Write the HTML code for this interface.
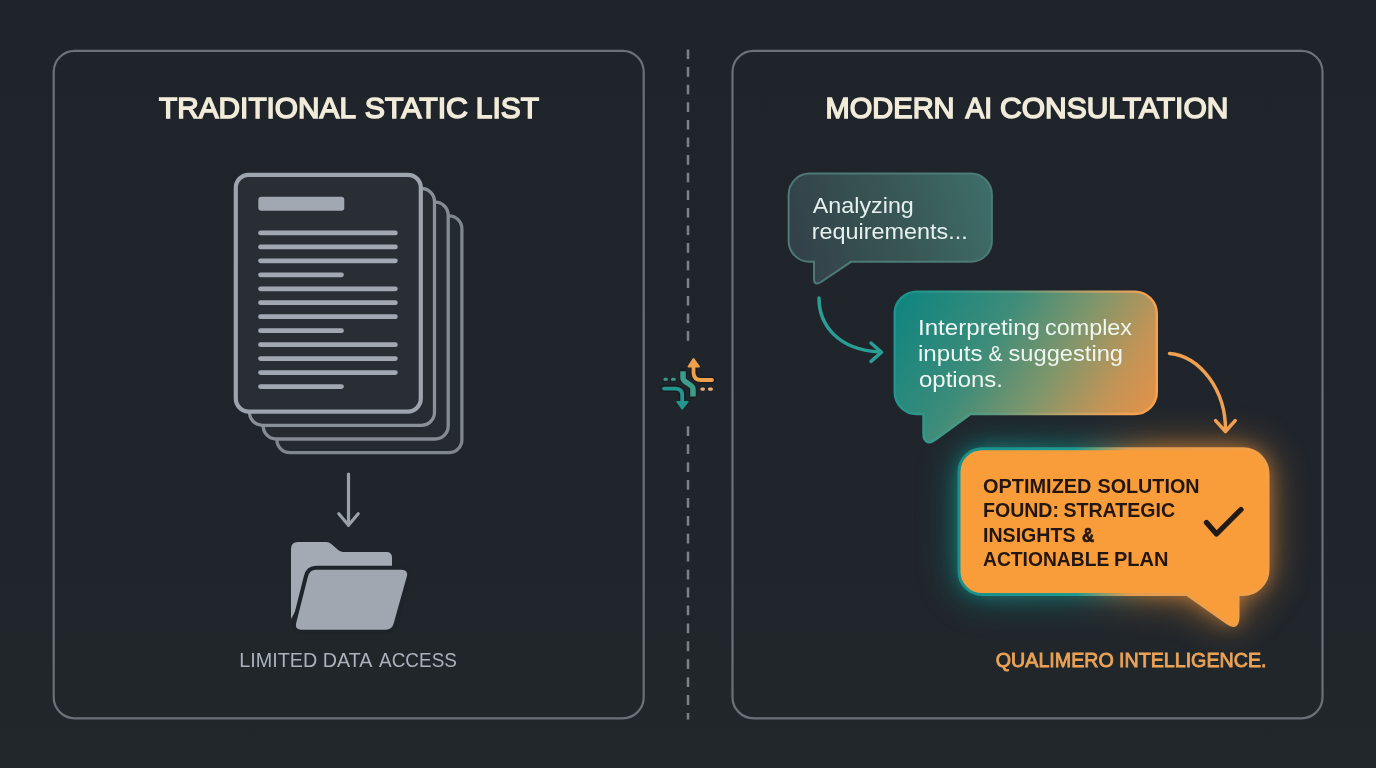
<!DOCTYPE html>
<html><head><meta charset="utf-8">
<style>
html,body{margin:0;padding:0;background:linear-gradient(#1f242b,#20252b 70%,#22272b);width:1376px;height:768px;overflow:hidden}
svg{display:block;position:absolute;left:0;top:0;will-change:transform}
text{font-family:"Liberation Sans",sans-serif}
</style></head>
<body>
<svg width="1376" height="768" viewBox="0 0 1376 768">
<defs>
  <linearGradient id="g1" gradientUnits="userSpaceOnUse" x1="790" y1="230" x2="990" y2="175">
    <stop offset="0" stop-color="#33414a"/>
    <stop offset="0.5" stop-color="#385653"/>
    <stop offset="1" stop-color="#3e6e6a"/>
  </linearGradient>
  <linearGradient id="g2" gradientUnits="userSpaceOnUse" x1="910" y1="292" x2="1150" y2="440">
    <stop offset="0" stop-color="#12857f"/>
    <stop offset="0.33" stop-color="#3d8c7a"/>
    <stop offset="0.58" stop-color="#80966b"/>
    <stop offset="0.8" stop-color="#c49456"/>
    <stop offset="1" stop-color="#ec9145"/>
  </linearGradient>
  <linearGradient id="g2s" gradientUnits="userSpaceOnUse" x1="900" y1="330" x2="1160" y2="380">
    <stop offset="0" stop-color="#1d948d"/>
    <stop offset="0.4" stop-color="#5a9a84"/>
    <stop offset="0.7" stop-color="#c4a266"/>
    <stop offset="0.9" stop-color="#f2a253"/>
    <stop offset="1" stop-color="#f8a24a"/>
  </linearGradient>
  <linearGradient id="g3s" gradientUnits="userSpaceOnUse" x1="958" y1="0" x2="1270" y2="0">
    <stop offset="0" stop-color="#18908b"/>
    <stop offset="0.38" stop-color="#1f9a90"/>
    <stop offset="0.55" stop-color="#e39d52"/>
    <stop offset="1" stop-color="#f5a045"/>
  </linearGradient>
  <linearGradient id="g3glow" gradientUnits="userSpaceOnUse" x1="958" y1="0" x2="1270" y2="0">
    <stop offset="0" stop-color="#10a59c" stop-opacity="1"/>
    <stop offset="0.4" stop-color="#1a9a90" stop-opacity="0.9"/>
    <stop offset="0.62" stop-color="#f59a3c"/>
    <stop offset="1" stop-color="#f59a3c"/>
  </linearGradient>
  <filter id="blur" x="-40%" y="-60%" width="180%" height="220%"><feGaussianBlur stdDeviation="9"/></filter>
  <filter id="blur2" x="-50%" y="-80%" width="200%" height="260%"><feGaussianBlur stdDeviation="20"/></filter>
</defs>

<!-- panels -->
<rect x="53.7" y="50.9" width="590" height="667.4" rx="21" fill="none" stroke="#6c7179" stroke-width="2.2"/>
<rect x="732.5" y="50.9" width="590" height="667.4" rx="21" fill="none" stroke="#6c7179" stroke-width="2.2"/>

<!-- dashed divider -->
<line x1="688" y1="49.5" x2="688" y2="342" stroke="#7c8189" stroke-width="2.5" stroke-dasharray="9.6 8" />
<line x1="688" y1="426.3" x2="688" y2="719.5" stroke="#7c8189" stroke-width="2.5" stroke-dasharray="9.8 8.12" />

<!-- titles -->
<g font-size="29.8" stroke="#f1ebd9" stroke-width="1.5" fill="#f1ebd9">
<text id="tl1" x="159.00" y="118.4" textLength="197.00" lengthAdjust="spacingAndGlyphs">TRADITIONAL</text>
<text id="tl2" x="364.80" y="118.4" textLength="103.20" lengthAdjust="spacingAndGlyphs">STATIC</text>
<text id="tl3" x="475.80" y="118.4" textLength="63.20" lengthAdjust="spacingAndGlyphs">LIST</text>
<text id="tr1" x="825.60" y="118.4" textLength="129.00" lengthAdjust="spacingAndGlyphs">MODERN</text>
<text id="tr2" x="965.40" y="118.4" textLength="26.60" lengthAdjust="spacingAndGlyphs">AI</text>
<text id="tr3" x="1000.00" y="118.4" textLength="228.40" lengthAdjust="spacingAndGlyphs">CONSULTATION</text>
</g>


<!-- doc stack -->
<rect x="276.9" y="215.9" width="185" height="236.8" rx="13" fill="#252930" stroke="#80868e" stroke-width="3.3"/>
<rect x="263.2" y="202.2" width="185" height="236.8" rx="13" fill="#262a31" stroke="#858b93" stroke-width="3.3"/>
<rect x="249.5" y="188.5" width="185" height="236.8" rx="13" fill="#272b32" stroke="#8a9098" stroke-width="3.3"/>
<rect x="235.8" y="174.8" width="185" height="236.8" rx="13" fill="#292d34" stroke="#9da4ad" stroke-width="4.2"/>
<rect x="258.3" y="196.8" width="86" height="14" rx="3" fill="#a2a8b1"/>
<g stroke="#a2a8b1" stroke-width="4.7" stroke-linecap="round">
  <line x1="260.5" y1="232.9" x2="395.4" y2="232.9"/>
  <line x1="260.5" y1="246.9" x2="395.4" y2="246.9"/>
  <line x1="260.5" y1="260.8" x2="395.4" y2="260.8"/>
  <line x1="260.5" y1="274.8" x2="341.5" y2="274.8"/>
  <line x1="260.5" y1="288.8" x2="395.4" y2="288.8"/>
  <line x1="260.5" y1="302.7" x2="395.4" y2="302.7"/>
  <line x1="260.5" y1="316.7" x2="395.4" y2="316.7"/>
  <line x1="260.5" y1="330.7" x2="341.5" y2="330.7"/>
  <line x1="260.5" y1="344.7" x2="395.4" y2="344.7"/>
  <line x1="260.5" y1="358.6" x2="395.4" y2="358.6"/>
  <line x1="260.5" y1="372.6" x2="395.4" y2="372.6"/>
  <line x1="260.5" y1="386.6" x2="341.5" y2="386.6"/>
</g>

<!-- down arrow -->
<g stroke="#9ba1a9" stroke-width="3.2" stroke-linecap="round" stroke-linejoin="round" fill="none">
  <line x1="348.5" y1="474" x2="348.5" y2="525"/>
  <polyline points="338.8,513.8 348.5,525.2 358.2,513.8"/>
</g>

<!-- folder -->
<path d="M291 549 Q291 542 298 542 H326.5 Q329 542 331 543.8 L338.5 550.3 Q340.5 552 343.5 552 H386.5 Q392 552 392 557.5 V585 H310 L291 619 Z" fill="#a3aab4"/>
<path d="M316 569.8 H401.5 Q408.5 569.8 406.8 576.5 L393.8 623 Q392.2 629.8 385.5 629.8 H301.5 Q294.5 629.8 296.2 623 L307.8 577 Q309.6 569.8 316 569.8 Z" fill="#a0a7b1" stroke="#1f242a" stroke-width="8" paint-order="stroke"/>
<g font-size="20.8" fill="#abb1ba"><text id="l1" x="239.20" y="667.4" textLength="78.00" lengthAdjust="spacingAndGlyphs">LIMITED</text><text id="l2" x="322.80" y="667.4" textLength="49.50" lengthAdjust="spacingAndGlyphs">DATA</text><text id="l3" x="379.10" y="667.4" textLength="77.80" lengthAdjust="spacingAndGlyphs">ACCESS</text></g>

<!-- central icon -->
<g fill="none" stroke-linejoin="round">
  <g stroke="#181b20" stroke-width="7" stroke-linecap="round" opacity="0.7">
    <path d="M693.5 367 V373 Q694 380 701 380 H712"/>
    <path d="M683 372 V378 C683 383 693 384 693 389 V396"/>
    <path d="M664 388.6 H676 Q682.2 389 682.2 395 V401"/>
  </g>
  <path d="M693.5 366 V373 Q694 380 701 380 H712" stroke="#efa04a" stroke-width="3.8" stroke-linecap="round"/>
  <path d="M688.3 366.6 L693.5 358.8 L699.2 366.6 Z" fill="#efa04a" stroke="#efa04a" stroke-width="1.6"/>
  <path d="M683 371.3 V378 C683 383 693 384 693 389 V396.5" stroke="#3a9e8a" stroke-width="5.5" stroke-linecap="butt"/>
  <path d="M664 388.6 H676 Q682.2 389 682.2 395 V401.5" stroke="#22978e" stroke-width="3.8" stroke-linecap="round"/>
  <path d="M677.2 401.8 L682.2 408.8 L687.8 401.8 Z" fill="#22978e" stroke="#22978e" stroke-width="1.6"/>
  <g stroke="#3a9d8c" stroke-width="3" stroke-linecap="round">
    <line x1="665" y1="379.2" x2="666.3" y2="379.2"/>
    <line x1="672.5" y1="379.2" x2="674.2" y2="379.2"/>
  </g>
  <g stroke="#e9b27a" stroke-width="3.4" stroke-linecap="round">
    <line x1="702" y1="389.1" x2="703.3" y2="389.1"/>
    <line x1="709.6" y1="389.1" x2="711.3" y2="389.1"/>
  </g>
</g>

<!-- bubble 3 glow -->
<path d="M982 448.8 H1243 A25 25 0 0 1 1268 473.8 V569.5 A25 25 0 0 1 1243 594.5 H1238 V616.5 Q1238 630 1227.5 623 L1187 594.5 H982 A23 23 0 0 1 959 571.5 V471.8 A23 23 0 0 1 982 448.8 Z" fill="url(#g3glow)" opacity="0.62" filter="url(#blur2)"/>
<path d="M982 448.8 H1243 A25 25 0 0 1 1268 473.8 V569.5 A25 25 0 0 1 1243 594.5 H1238 V616.5 Q1238 630 1227.5 623 L1187 594.5 H982 A23 23 0 0 1 959 571.5 V471.8 A23 23 0 0 1 982 448.8 Z" fill="url(#g3glow)" opacity="0.45" filter="url(#blur)"/>
<!-- bubble 1 -->
<path d="M810 173.6 H970.9 A21 21 0 0 1 991.9 194.6 V240.8 A21 21 0 0 1 970.9 261.8 H851 L821 282 Q814 286 814 279 V261.8 H809.6 A21 21 0 0 1 788.6 240.8 V194.6 A21 21 0 0 1 810 173.6 Z" fill="url(#g1)" stroke="#4d7a77" stroke-width="2"/>
<g font-size="21.5" fill="#e6f1ef"><text id="a1" x="812.80" y="213.2" textLength="101.00" lengthAdjust="spacingAndGlyphs">Analyzing</text><text id="a2" x="811.80" y="239.2" textLength="156.00" lengthAdjust="spacingAndGlyphs">requirements...</text></g>

<!-- bubble 2 -->
<path d="M917 291.6 H1134.8 A22 22 0 0 1 1156.8 313.6 V392 A22 22 0 0 1 1134.8 414 H970.5 L935.5 439.5 Q929.5 444 926 441 Q923.5 439 923.5 434.5 V414 H916.7 A22 22 0 0 1 894.7 392 V313.6 A22 22 0 0 1 917 291.6 Z" fill="url(#g2)" stroke="url(#g2s)" stroke-width="2.4"/>
<g font-size="21.5" fill="#eef6f2"><text id="i1" x="918.00" y="334.5" textLength="122.00" lengthAdjust="spacingAndGlyphs">Interpreting</text><text id="i2" x="1045.00" y="334.5" textLength="87.00" lengthAdjust="spacingAndGlyphs">complex</text><text id="i3" x="918.00" y="360.5" textLength="64.50" lengthAdjust="spacingAndGlyphs">inputs</text><text id="i4" x="988.50" y="360.5" textLength="14.00" lengthAdjust="spacingAndGlyphs">&amp;</text><text id="i5" x="1008.50" y="360.5" textLength="114.50" lengthAdjust="spacingAndGlyphs">suggesting</text><text id="i6" x="919.00" y="387" textLength="84.00" lengthAdjust="spacingAndGlyphs">options.</text></g>

<!-- arrows -->
<path d="M819 298 C819 325 838 350 880 352" fill="none" stroke="#2a9d94" stroke-width="3.5" stroke-linecap="round"/>
<polyline points="871,343 881.5,352.3 871,361.4" fill="none" stroke="#2a9d94" stroke-width="3.5" stroke-linecap="round" stroke-linejoin="round"/>
<path d="M1169.5 353.4 C1200 356 1226 390 1225.5 431" fill="none" stroke="#f0a050" stroke-width="3.5" stroke-linecap="round"/>
<polyline points="1215.6,420.6 1225.5,431.5 1235.2,420.6" fill="none" stroke="#f0a050" stroke-width="3.5" stroke-linecap="round" stroke-linejoin="round"/>

<!-- bubble 3 -->
<path d="M982 448.8 H1243 A25 25 0 0 1 1268 473.8 V569.5 A25 25 0 0 1 1243 594.5 H1238 V616.5 Q1238 630 1227.5 623 L1187 594.5 H982 A23 23 0 0 1 959 571.5 V471.8 A23 23 0 0 1 982 448.8 Z" fill="#f99d3a" stroke="url(#g3s)" stroke-width="3"/>
<g font-size="20" font-weight="bold" fill="#221612">
<text id="o1" x="983.00" y="492.8" textLength="108.50" lengthAdjust="spacingAndGlyphs">OPTIMIZED</text><text id="o2" x="1097.50" y="492.8" textLength="102.00" lengthAdjust="spacingAndGlyphs">SOLUTION</text><text id="o3" x="983.00" y="517.1" textLength="76.00" lengthAdjust="spacingAndGlyphs">FOUND:</text><text id="o4" x="1063.50" y="517.1" textLength="111.50" lengthAdjust="spacingAndGlyphs">STRATEGIC</text><text id="o5" x="983.00" y="541.5" textLength="92.50" lengthAdjust="spacingAndGlyphs">INSIGHTS</text><text id="o6" x="1082.00" y="541.5" textLength="12.25" lengthAdjust="spacingAndGlyphs" stroke="#221612" stroke-width="0.7">&amp;</text><text id="o7" x="983.00" y="565.8" textLength="126.25" lengthAdjust="spacingAndGlyphs">ACTIONABLE</text><text id="o8" x="1114.00" y="565.8" textLength="54.50" lengthAdjust="spacingAndGlyphs">PLAN</text>
</g>
<polyline points="1206.5,522.5 1216.5,534 1241,509.5" fill="none" stroke="#221a16" stroke-width="5.3" stroke-linecap="round" stroke-linejoin="round"/>

<g font-size="20.8" fill="#eaa356" stroke="#eaa356" stroke-width="0.9"><text id="q1" x="995.80" y="667.4" textLength="118.00" lengthAdjust="spacingAndGlyphs">QUALIMERO</text><text id="q2" x="1119.00" y="667.4" textLength="147.50" lengthAdjust="spacingAndGlyphs">INTELLIGENCE.</text></g>
</svg>
</body></html>
